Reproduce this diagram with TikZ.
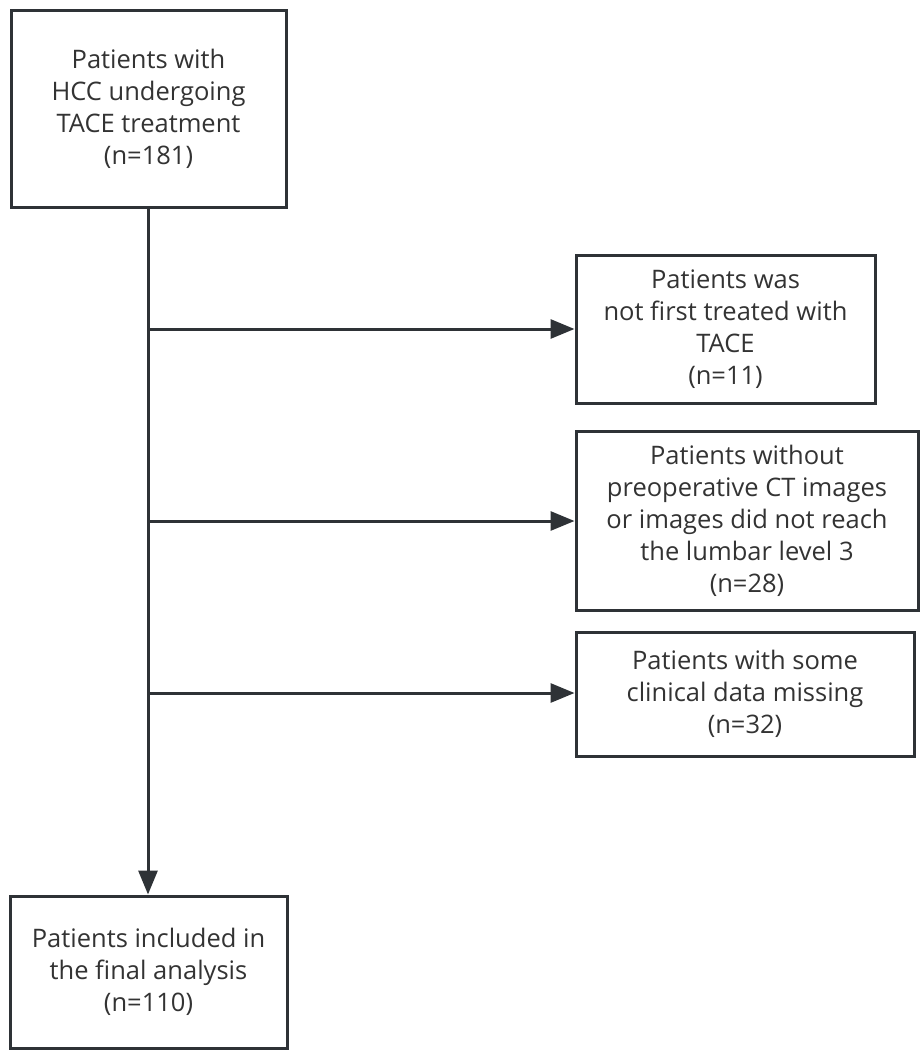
\documentclass[tikz,border=0pt]{standalone}
\usepackage{fontspec}
\setmainfont{Open Sans}
\usetikzlibrary{arrows.meta}
\definecolor{edge}{HTML}{2E3236}
\definecolor{txt}{HTML}{333333}
\tikzset{
  box/.style={draw=edge, line width=3pt, fill=white, inner sep=0pt, align=center,
    text=txt, font=\fontsize{25.5}{32}\selectfont, rectangle},
  conn/.style={draw=edge, line width=3pt, -{Triangle[length=24pt,width=19pt]}},
}
\begin{document}
\begin{tikzpicture}[x=1pt,y=-1pt]
\useasboundingbox[fill=white] (0,0) rectangle (919,1050);
\node[box, minimum width=275pt, minimum height=197pt] (start) at (148.5,108.5)
  {Patients with\\HCC undergoing\\TACE treatment\\(n=181)};
\node[box, minimum width=299pt, minimum height=148pt] (ex1) at (725.5,329)
  {Patients was\\not first treated with\\TACE\\(n=11)};
\node[box, minimum width=342pt, minimum height=179pt] (ex2) at (747,520.5)
  {Patients without\\preoperative CT images\\or images did not reach\\the lumbar level 3\\(n=28)};
\node[box, minimum width=338pt, minimum height=124pt] (ex3) at (745,694)
  {Patients with some\\clinical data missing\\(n=32)};
\node[box, minimum width=277pt, minimum height=152pt] (final) at (148.5,972)
  {Patients included in\\the final analysis\\(n=110)};
\coordinate (j1) at (148,329);
\coordinate (j2) at (148,521);
\coordinate (j3) at (148,693);
\draw[conn] (start.south -| j1) -- (final.north -| j1);
\draw[conn] (j1) -- (ex1.west |- j1);
\draw[conn] (j2) -- (ex2.west |- j2);
\draw[conn] (j3) -- (ex3.west |- j3);
\end{tikzpicture}
\end{document}
